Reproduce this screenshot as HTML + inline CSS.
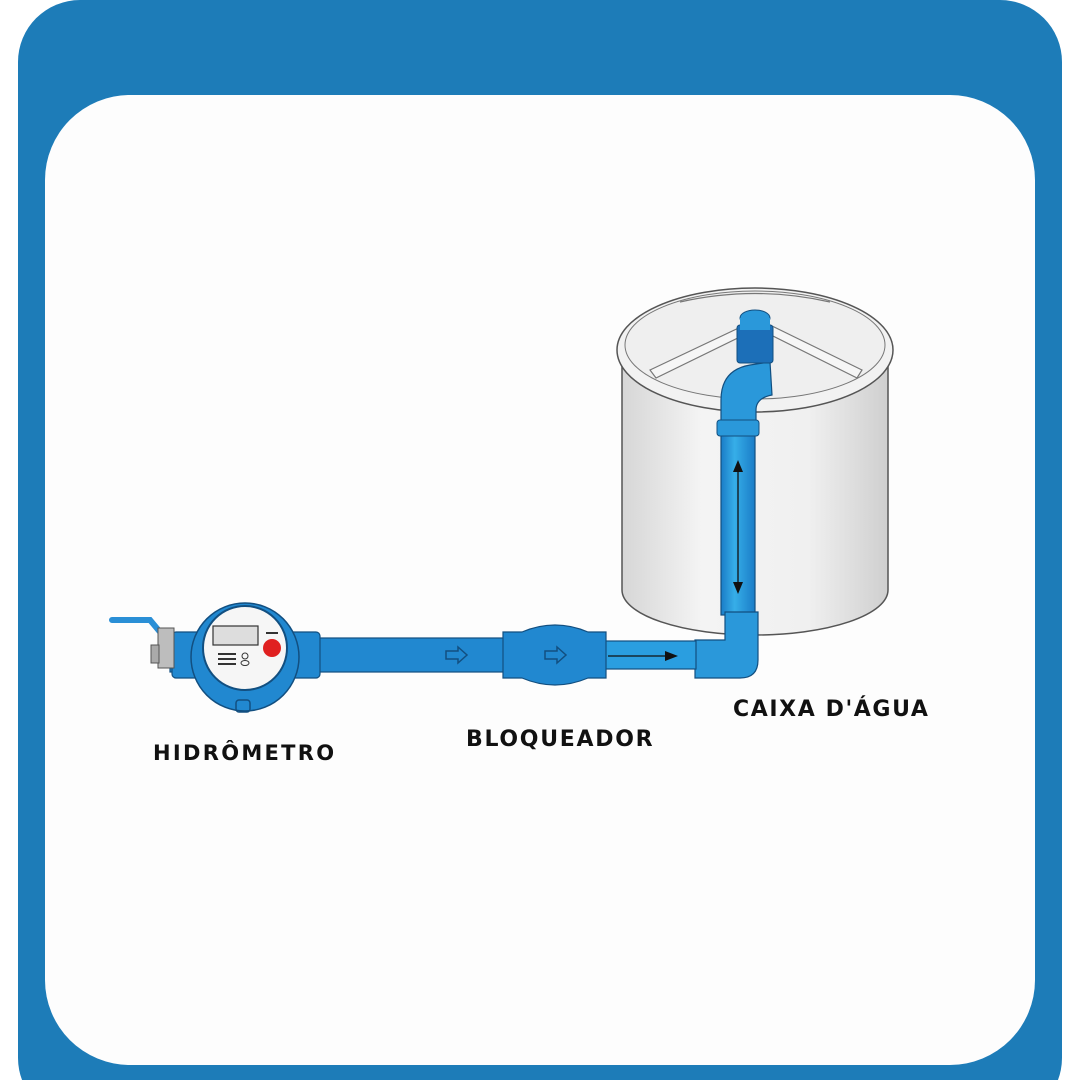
<!DOCTYPE html>
<html><head><meta charset="utf-8"><style>
html,body{margin:0;padding:0;background:#fff;width:1080px;height:1080px;overflow:hidden}
text{font-family:"DejaVu Sans","Liberation Sans",sans-serif;font-weight:bold;fill:#111}
</style></head><body>
<svg width="1080" height="1080" viewBox="0 0 1080 1080" xmlns="http://www.w3.org/2000/svg">
<defs>
<linearGradient id="tank" x1="0" x2="1" y1="0" y2="0">
<stop offset="0" stop-color="#d6d6d6"/><stop offset="0.3" stop-color="#f4f4f4"/><stop offset="0.7" stop-color="#f0f0f0"/><stop offset="1" stop-color="#cfcfcf"/></linearGradient>
<linearGradient id="pipeV" x1="0" x2="1"><stop offset="0" stop-color="#1a7cc7"/><stop offset="0.4" stop-color="#36aee8"/><stop offset="1" stop-color="#1a7cc7"/></linearGradient>
</defs>
<rect x="18" y="0" width="1044" height="1120" rx="62" fill="#1d7cb8"/>
<rect x="45" y="95" width="990" height="970" rx="85" fill="#fdfdfd"/>
<!-- tank -->
<path d="M622 355 L622 590 A133 45 0 0 0 888 590 L888 355 Z" fill="url(#tank)" stroke="#555" stroke-width="1.5"/>
<ellipse cx="755" cy="350" rx="138" ry="62" fill="#f2f2f2" stroke="#555" stroke-width="1.5"/>
<ellipse cx="755" cy="345" rx="130" ry="54" fill="#efefef" stroke="#777" stroke-width="1"/>
<g stroke="#777" stroke-width="1.2" fill="#f6f6f6">
<path d="M650 370 L745 325 L750 332 L656 378 Z"/>
<path d="M862 370 L770 325 L765 332 L857 378 Z"/>
<path d="M680 302 Q755 285 830 302" fill="none"/>
</g>
<!-- vertical pipe -->
<rect x="721" y="425" width="34" height="190" fill="url(#pipeV)" stroke="#124f80" stroke-width="1.2"/>
<path d="M721 430 L721 400 Q721 370 750 365 L770 362 L772 395 Q756 398 756 410 L756 430 Z" fill="#2a98da" stroke="#124f80" stroke-width="1.2"/>
<rect x="717" y="420" width="42" height="16" rx="3" fill="#2a98da" stroke="#124f80"/>
<rect x="737" y="325" width="36" height="38" rx="3" fill="#1c6fb8" stroke="#124f80"/>
<ellipse cx="755" cy="318" rx="15" ry="8" fill="#2a98da" stroke="#124f80"/>
<rect x="740" y="318" width="30" height="12" fill="#2a98da" stroke="none"/>
<line x1="738" y1="465" x2="738" y2="590" stroke="#111" stroke-width="1.3"/>
<path d="M733 472 L738 460 L743 472 Z M733 582 L738 594 L743 582 Z" fill="#111"/>
<!-- elbow -->
<path d="M695 640 L725 640 L725 612 L758 612 L758 660 Q758 678 740 678 L695 678 Z" fill="#2a98da" stroke="#124f80" stroke-width="1.2"/>
<!-- horizontal pipe -->
<rect x="170" y="638" width="340" height="34" fill="#2188d0" stroke="#124f80" stroke-width="1.2"/>
<rect x="604" y="641" width="92" height="28" fill="#2a9ee0" stroke="#124f80" stroke-width="1.2"/>
<line x1="608" y1="656" x2="672" y2="656" stroke="#111" stroke-width="1.2"/>
<path d="M665 651 L678 656 L665 661 Z" fill="#111"/>
<path d="M503 632 L522 632 Q555 618 588 632 L606 632 L606 678 L588 678 Q555 692 522 678 L503 678 Z" fill="#2188d0" stroke="#124f80" stroke-width="1.2"/>
<path d="M446 651 L458 651 L458 647 L467 655 L458 663 L458 659 L446 659 Z M545 651 L557 651 L557 647 L566 655 L557 663 L557 659 L545 659 Z" fill="none" stroke="#124f80" stroke-width="1.5"/>
<!-- meter -->
<rect x="172" y="632" width="148" height="46" rx="4" fill="#2188d0" stroke="#124f80" stroke-width="1.2"/>
<path d="M112 620 L150 620 L160 632" fill="none" stroke="#2a8fd6" stroke-width="6" stroke-linecap="round"/>
<rect x="158" y="628" width="16" height="40" fill="#bdbdbd" stroke="#555"/>
<rect x="151" y="645" width="8" height="18" fill="#aaa" stroke="#555"/>
<circle cx="245" cy="657" r="54" fill="#2188d0" stroke="#124f80" stroke-width="1.5"/>
<rect x="236" y="700" width="14" height="12" rx="3" fill="none" stroke="#124f80" stroke-width="1.5"/>
<circle cx="245" cy="648" r="42" fill="#f6f6f6" stroke="#124f80" stroke-width="2"/>
<rect x="213" y="626" width="45" height="19" fill="#ddd" stroke="#333" stroke-width="1.2"/>
<circle cx="272" cy="648" r="9" fill="#e02020"/>
<g fill="#333"><rect x="218" y="653" width="18" height="2"/><rect x="218" y="658" width="18" height="2"/><rect x="218" y="663" width="18" height="2"/><rect x="266" y="632" width="12" height="2"/></g>
<circle cx="245" cy="656" r="3" fill="none" stroke="#333"/>
<ellipse cx="245" cy="663" rx="4" ry="2.5" fill="none" stroke="#333"/>
<!-- labels -->
<text x="153" y="760" font-size="21" letter-spacing="2.3">HIDRÔMETRO</text>
<text x="466" y="746" font-size="22" letter-spacing="1.7">BLOQUEADOR</text>
<text x="733" y="716" font-size="22" letter-spacing="1.6">CAIXA D'ÁGUA</text>
</svg>
</body></html>
